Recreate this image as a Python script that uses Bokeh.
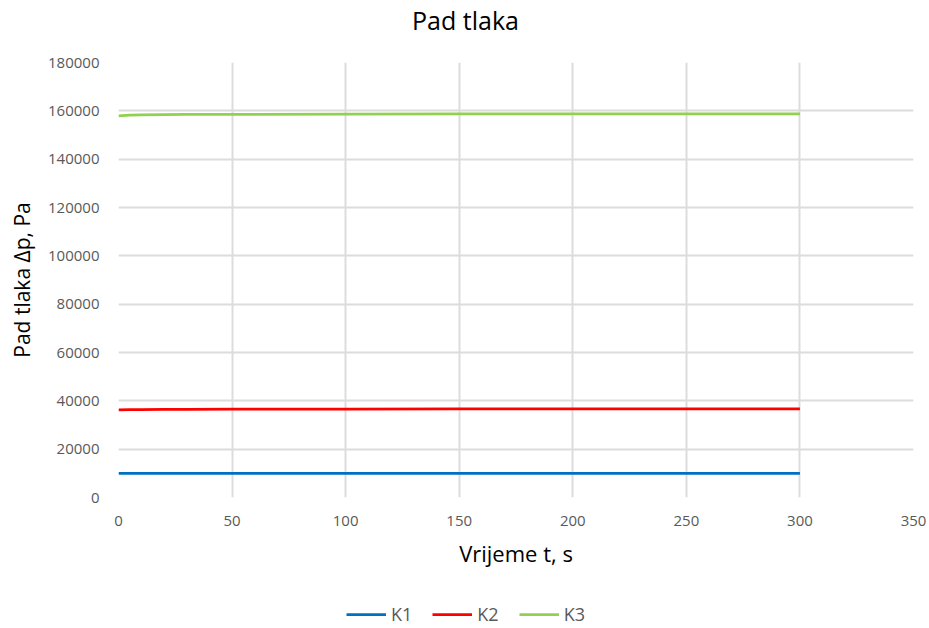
from bokeh.plotting import figure
from bokeh.models import Legend, LegendItem, FixedTicker, NumeralTickFormatter, Label
from bokeh.layouts import column
from bokeh.embed import file_html
from bokeh.resources import INLINE

# Data
t = [0, 5, 10, 20, 30, 50, 100, 150, 200, 250, 300]
k1 = [10000, 10000, 10000, 10000, 10000, 10000, 10000, 10000, 10000, 10000, 10000]
k2 = [36300, 36350, 36400, 36450, 36500, 36550, 36600, 36650, 36700, 36700, 36700]
k3 = [157900, 158200, 158350, 158450, 158500, 158550, 158650, 158700, 158700, 158750, 158700]
series_names = ["K1", "K2", "K3"]
series_colors = ["#0070C0", "#FF0000", "#92D050"]
x_ticks = [0, 50, 100, 150, 200, 250, 300, 350]
y_ticks = [0, 20000, 40000, 60000, 80000, 100000, 120000, 140000, 160000, 180000]
title_text = "Pad tlaka"

FONT = "Open Sans"
GRID = "#dcdcdc"
TICK = "#595959"
W = 929
TITLE_H = 52
MAIN_H = 523
LEG_H = 53
LEFT = 118
RIGHT = 16


def bare(fig):
    fig.outline_line_color = None
    fig.grid.visible = False
    fig.background_fill_color = "white"
    fig.border_fill_color = "white"
    return fig


# ---- title strip (its frame is aligned with the main frame by the column) ----
tf = bare(figure(width=W, height=TITLE_H, x_range=(LEFT, W - RIGHT), y_range=(TITLE_H, 0),
                 output_backend="svg", toolbar_location=None,
                 x_axis_location=None, y_axis_location=None,
                 min_border=0, min_border_left=LEFT, min_border_right=RIGHT))
tf.add_layout(Label(x=465, y=19, text=title_text, text_font=FONT, text_font_size="25px",
                    text_color="#000000", text_align="center", text_baseline="middle"))

# ---- main chart ----
p = figure(width=W, height=MAIN_H, x_range=(0, 350), y_range=(0, 180000),
           output_backend="svg", toolbar_location=None,
           min_border_left=LEFT, min_border_right=RIGHT, min_border_top=10, min_border_bottom=78)
p.outline_line_color = None
p.background_fill_color = "white"
p.border_fill_color = "white"

for g in (p.xgrid, p.ygrid):
    g.grid_line_color = GRID
    g.grid_line_width = 2

p.xaxis.ticker = FixedTicker(ticks=x_ticks)
p.yaxis.ticker = FixedTicker(ticks=y_ticks)
p.yaxis.formatter = NumeralTickFormatter(format="0")

for ax in (p.xaxis, p.yaxis):
    ax.axis_line_color = None
    ax.major_tick_line_color = None
    ax.minor_tick_line_color = None
    ax.major_label_text_font = FONT
    ax.major_label_text_font_size = "15px"
    ax.major_label_text_color = TICK
    ax.axis_label_text_font = FONT
    ax.axis_label_text_font_style = "normal"
    ax.axis_label_text_color = "#000000"

p.xaxis.axis_label = "Vrijeme t, s"
p.yaxis.axis_label = "Pad tlaka Δp, Pa"
p.xaxis.axis_label_text_font_size = "22px"
p.yaxis.axis_label_text_font_size = "21px"
p.xaxis.major_label_standoff = 12
p.yaxis.major_label_standoff = 13
p.xaxis.axis_label_standoff = 9
p.yaxis.axis_label_standoff = 9

for ys, c in zip([k1, k2, k3], series_colors):
    p.line(t, ys, line_color=c, line_width=2.75)

# ---- legend strip ----
lf = bare(figure(width=W, height=LEG_H, x_range=(0, 350), y_range=(-2, -1),
                 output_backend="svg", toolbar_location=None,
                 x_axis_location=None, y_axis_location=None,
                 min_border=0, min_border_left=LEFT, min_border_right=RIGHT))
leg_renderers = [lf.line(t, ys, line_color=c, line_width=2.75)
                 for ys, c in zip([k1, k2, k3], series_colors)]
legend = Legend(items=[LegendItem(label=n, renderers=[r]) for n, r in zip(series_names, leg_renderers)],
                orientation="horizontal", location=(228, 2))
legend.label_text_font = FONT
legend.label_text_font_size = "18px"
legend.label_text_color = TICK
legend.glyph_width = 40
legend.label_standoff = 5
legend.spacing = 20
legend.padding = 2
legend.margin = 0
legend.border_line_color = None
legend.background_fill_alpha = 0
lf.add_layout(legend, "center")

layout = column(tf, p, lf, spacing=0)
open("out.html", "w").write(file_html(layout, INLINE))
